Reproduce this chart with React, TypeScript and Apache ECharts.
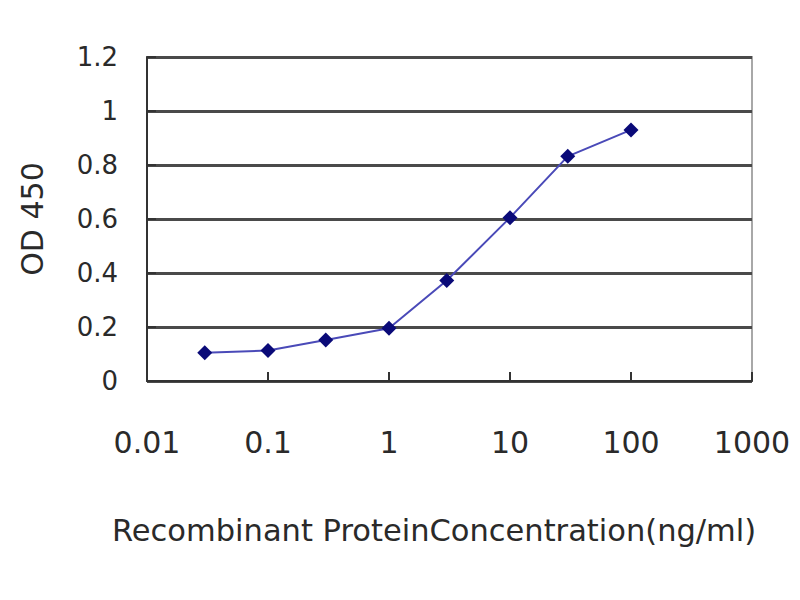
import React, { useEffect, useRef } from "react";
import * as echarts from "echarts";

const concentrations = [0.03, 0.1, 0.3, 1, 3, 10, 30, 100];
const odValues = [0.105, 0.113, 0.152, 0.195, 0.372, 0.605, 0.832, 0.93];
const xTickLabels = ["0.01", "0.1", "1", "10", "100", "1000"];
const xTitle = "Recombinant ProteinConcentration(ng/ml)";
const yTitle = "OD 450";

const FONT = "DejaVu Sans";

export default function App() {
  const ref = useRef<HTMLDivElement>(null);
  useEffect(() => {
    if (!ref.current) return;
    const chart = echarts.init(ref.current, undefined, { renderer: "svg" });
    chart.setOption({
      animation: false,
      backgroundColor: "#ffffff",
      title: {
        text: xTitle,
        left: 107,
        top: 510,
        textStyle: { fontFamily: FONT, fontSize: 30.5, fontWeight: "normal", color: "#2a2a2a" },
      },
      grid: { left: 147, right: 48, top: 57, bottom: 219, show: true, borderColor: "#a8a8a8", borderWidth: 2, backgroundColor: "transparent" },
      xAxis: {
        type: "log",
        logBase: 10,
        min: 0.01,
        max: 1000,
        axisLine: { show: true, onZero: false, lineStyle: { color: "#333", width: 2 } },
        axisTick: { show: true, inside: true, length: 9, lineStyle: { color: "#333", width: 2 } },
        splitLine: { show: false },
        minorTick: { show: false },
        axisLabel: {
          margin: 46,
          fontFamily: FONT,
          fontSize: 30,
          color: "#2a2a2a",
          formatter: (v: number) => {
            const idx = Math.round(Math.log10(v)) + 2;
            return xTickLabels[idx] ?? String(v);
          },
        },
      },
      yAxis: {
        type: "value",
        min: 0,
        max: 1.2,
        interval: 0.2,
        name: yTitle,
        nameLocation: "middle",
        nameGap: 100,
        nameTextStyle: { fontFamily: FONT, fontSize: 30, color: "#2a2a2a" },
        axisLine: { show: true, lineStyle: { color: "#333", width: 2 } },
        axisTick: { show: true, inside: true, length: 9, lineStyle: { color: "#333", width: 2 } },
        splitLine: { show: true, lineStyle: { color: "#4a4a4a", width: 3 } },
        axisLabel: {
          margin: 29,
          fontFamily: FONT,
          fontSize: 26,
          color: "#2a2a2a",
          formatter: (v: number) => String(Math.round(v * 10) / 10),
        },
      },
      series: [
        {
          type: "line",
          data: concentrations.map((c, i) => [c, odValues[i]]),
          symbol: "diamond",
          symbolSize: 15,
          itemStyle: { color: "#0a0a78" },
          lineStyle: { color: "#4a4ab8", width: 2 },
        },
      ],
    });
    return () => chart.dispose();
  }, []);
  return <div ref={ref} style={{ width: 800, height: 600, margin: -8 }} />;
}
